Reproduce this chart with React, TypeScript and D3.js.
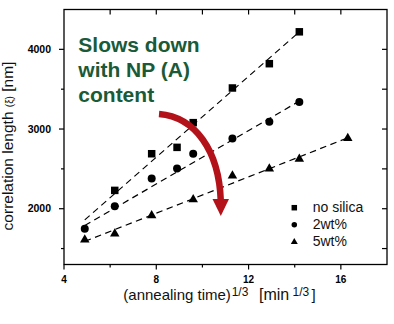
import React from "react";
import * as d3 from "d3";

const noSilicaX = [6.2, 7.8, 8.9, 9.6, 11.3, 12.9, 14.2];
const noSilicaY = [2230, 2690, 2770, 3080, 3515, 3820, 4220];
const wt2X = [4.9, 6.2, 7.8, 8.9, 9.6, 11.3, 12.9, 14.2];
const wt2Y = [1750, 2030, 2380, 2505, 2690, 2880, 3090, 3340];
const wt5X = [4.9, 6.2, 7.8, 9.6, 11.3, 12.9, 14.2, 16.3];
const wt5Y = [1615, 1690, 1920, 2120, 2420, 2505, 2630, 2890];

const fitNoSilicaX = [4.9, 14.2];
const fitNoSilicaY = [1860, 4220];
const fit2X = [4.9, 14.2];
const fit2Y = [1790, 3350];
const fit5X = [4.9, 16.3];
const fit5Y = [1590, 2890];

const xMajorTicks = [4, 8, 12, 16];
const xMinorTicks = [6, 10, 14];
const yMajorTicks = [2000, 3000, 4000];
const yMinorTicks = [1500, 2500, 3500];
const legendLabels = ["no silica", "2wt%", "5wt%"];
const annotationLines = ["Slows down", "with NP (A)", "content"];

const W = 394;
const H = 324;
const M = { left: 64, right: 387, top: 9.5, bottom: 264.5 };

function Marker({ kind, x, y, s }: { kind: string; x: number; y: number; s: number }) {
  if (kind === "square")
    return <rect x={x - s / 2} y={y - s / 2} width={s} height={s} fill="#000" />;
  if (kind === "circle") return <circle cx={x} cy={y} r={s / 2} fill="#000" />;
  const h = s * 0.87;
  return (
    <path
      d={`M${x},${y - h * 0.62}L${x + s / 2},${y + h * 0.38}L${x - s / 2},${y + h * 0.38}Z`}
      fill="#000"
    />
  );
}

export default function App() {
  const x = d3.scaleLinear().domain([4, 18]).range([M.left, M.right]);
  const y = d3.scaleLinear().domain([1300, 4500]).range([M.bottom, M.top]);
  const line = d3
    .line<[number, number]>()
    .x((d) => x(d[0]))
    .y((d) => y(d[1]));

  const series = [
    { kind: "square", xs: noSilicaX, ys: noSilicaY, fx: fitNoSilicaX, fy: fitNoSilicaY, s: 7.5 },
    { kind: "circle", xs: wt2X, ys: wt2Y, fx: fit2X, fy: fit2Y, s: 8 },
    { kind: "triangle", xs: wt5X, ys: wt5Y, fx: fit5X, fy: fit5Y, s: 9.5 },
  ];

  const topTicks = d3.range(6, 18, 2);
  const rightTicks = d3.range(1500, 4500, 500);
  const font = "'Liberation Sans', Arial, sans-serif";

  return (
    <svg
      width={W}
      height={H}
      style={{ position: "absolute", left: 0, top: 0, background: "#fff" }}
      fontFamily={font}
    >
      <rect width={W} height={H} fill="#fff" />
      {series.map((s, i) => (
        <path
          key={"f" + i}
          d={line(s.fx.map((v, j) => [v, s.fy[j]] as [number, number])) || ""}
          fill="none"
          stroke="#000"
          strokeWidth={1.2}
          strokeDasharray="6.5,4.5"
        />
      ))}
      {series.map((s, i) =>
        s.xs.map((v, j) => (
          <Marker key={i + "-" + j} kind={s.kind} x={x(v)} y={y(s.ys[j])} s={s.s} />
        ))
      )}
      <rect
        x={M.left}
        y={M.top}
        width={M.right - M.left}
        height={M.bottom - M.top}
        fill="none"
        stroke="#000"
        strokeWidth={1.3}
      />
      {xMajorTicks.map((t) => (
        <g key={"xm" + t}>
          <line x1={x(t)} x2={x(t)} y1={M.bottom} y2={M.bottom + 5} stroke="#000" strokeWidth={1.2} />
          <text x={x(t)} y={283} textAnchor="middle" fontSize={10} fontWeight="bold">
            {t}
          </text>
        </g>
      ))}
      {xMinorTicks.map((t) => (
        <line key={"xn" + t} x1={x(t)} x2={x(t)} y1={M.bottom} y2={M.bottom + 3} stroke="#000" strokeWidth={1.2} />
      ))}
      {topTicks.map((t) => (
        <line key={"xt" + t} x1={x(t)} x2={x(t)} y1={M.top} y2={M.top + 5} stroke="#000" strokeWidth={1.2} />
      ))}
      {yMajorTicks.map((t) => (
        <g key={"ym" + t}>
          <line x1={M.left - 5} x2={M.left} y1={y(t)} y2={y(t)} stroke="#000" strokeWidth={1.2} />
          <text x={51} y={y(t) + 3.6} textAnchor="end" fontSize={10.5} fontWeight="bold">
            {t}
          </text>
        </g>
      ))}
      {yMinorTicks.map((t) => (
        <line key={"yn" + t} x1={M.left - 3} x2={M.left} y1={y(t)} y2={y(t)} stroke="#000" strokeWidth={1.2} />
      ))}
      {rightTicks.map((t) => (
        <line key={"yr" + t} x1={M.right - 5} x2={M.right} y1={y(t)} y2={y(t)} stroke="#000" strokeWidth={1.2} />
      ))}
      <text x={123.3} y={300} fontSize={15} fill="#111">
        (annealing time)
      </text>
      <text x={231.7} y={295.5} fontSize={12} fill="#111">
        1/3
      </text>
      <text x={259} y={300} fontSize={16} fill="#111">
        [min
      </text>
      <text x={292.5} y={295.5} fontSize={12} fill="#111">
        1/3
      </text>
      <text x={311.5} y={300} fontSize={15} fill="#111">
        ]
      </text>
      <text
        transform={`translate(13,146) rotate(-90)`}
        textAnchor="middle"
        fontSize={15.5}
        fill="#111"
      >
        correlation length <tspan fontSize={10}>(ξ)</tspan> [nm]
      </text>
      {series.map((s, i) => (
        <g key={"l" + i}>
          <Marker kind={s.kind} x={294.3} y={207.7 + i * 17} s={s.kind === "triangle" ? 7 : 5.5} />
          <text x={312.7} y={212 + i * 17} fontSize={14} fill="#111">
            {legendLabels[i]}
          </text>
        </g>
      ))}
      {annotationLines.map((t, i) => (
        <text key={"a" + i} x={78.3} y={51.7 + i * 25} fontSize={21} fontWeight="bold" fill="#1a5a38">
          {t}
        </text>
      ))}
      <path
        d="M159,114 C195,117 219,150 220.8,201"
        fill="none"
        stroke="#b3121a"
        strokeWidth={6.5}
      />
      <path d="M212.5,199 L229,199 L220.8,216 Z" fill="#b3121a" />
    </svg>
  );
}
